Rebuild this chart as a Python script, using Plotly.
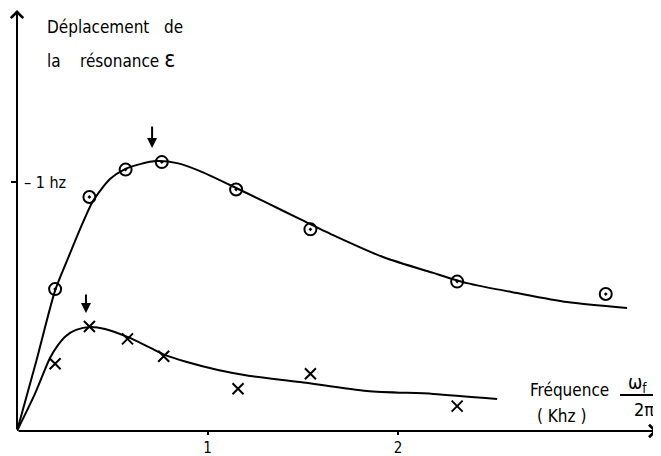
import plotly.graph_objects as go

# measured points (kHz, Hz)
circ_x = [0.20, 0.38, 0.57, 0.76, 1.15, 1.54, 2.31, 3.09]
circ_y = [0.57, 0.94, 1.05, 1.08, 0.97, 0.81, 0.60, 0.55]
cross_x = [0.20, 0.38, 0.58, 0.77, 1.16, 1.54, 2.31]
cross_y = [0.27, 0.42, 0.37, 0.30, 0.17, 0.23, 0.10]

# hand-drawn fitted curves
up_x = [0, 0.10, 0.199, 0.262, 0.331, 0.399, 0.488, 0.567, 0.646, 0.735, 0.840, 0.961,
        1.118, 1.312, 1.486, 1.659, 1.921, 2.184, 2.362, 2.625, 2.887, 3.202]
up_y = [0, 0.277, 0.562, 0.683, 0.811, 0.924, 1.012, 1.052, 1.072, 1.084, 1.076, 1.044,
        0.988, 0.916, 0.851, 0.787, 0.699, 0.635, 0.594, 0.554, 0.518, 0.494]
lo_x = [0, 0.094, 0.173, 0.215, 0.257, 0.310, 0.383, 0.462, 0.583, 0.682, 0.766,
        0.892, 1.055, 1.223, 1.486, 1.837, 2.184, 2.520]
lo_y = [0, 0.149, 0.293, 0.345, 0.382, 0.406, 0.418, 0.410, 0.377, 0.341, 0.309,
        0.277, 0.245, 0.221, 0.197, 0.161, 0.149, 0.129]

x_ticks = [1, 2]
x_tick_text = ["1", "2"]
y_ticks = [1]

XMAX, YMAX = 3.38, 1.691
XARROW = 3.36
FONT = "DejaVu Sans Condensed, DejaVu Sans, sans-serif"
PAGE = 8  # default body margin of the html page

fig = go.Figure()
fig.add_trace(go.Scatter(x=up_x, y=up_y, mode="lines", hoverinfo="skip",
                         line=dict(color="black", width=2, shape="spline", smoothing=0.7)))
fig.add_trace(go.Scatter(x=lo_x, y=lo_y, mode="lines", hoverinfo="skip",
                         line=dict(color="black", width=2, shape="spline", smoothing=0.7)))
fig.add_trace(go.Scatter(x=circ_x, y=circ_y, mode="markers",
                         marker=dict(symbol="circle-open-dot", size=12, color="black",
                                     line=dict(width=2, color="black"))))
fig.add_trace(go.Scatter(x=cross_x, y=cross_y, mode="markers",
                         marker=dict(symbol="x-thin-open", size=11, color="black",
                                     line=dict(width=2, color="black"))))

ann = []
# axes arrows
ann.append(dict(x=0, y=YMAX, ax=0, ay=0, xref="x", yref="y", axref="x", ayref="y",
                showarrow=True, arrowhead=4, arrowsize=1.2, arrowwidth=2, arrowcolor="black", text=""))
ann.append(dict(x=XARROW, y=0, ax=0, ay=0, xref="x", yref="y", axref="x", ayref="y",
                showarrow=True, arrowhead=4, arrowsize=1.2, arrowwidth=2, arrowcolor="black", text=""))
# peak arrows
ann.append(dict(x=0.709, y=1.137, ax=0.709, ay=1.229, xref="x", yref="y", axref="x", ayref="y",
                showarrow=True, arrowhead=2, arrowsize=1, arrowwidth=2, arrowcolor="black", text=""))
ann.append(dict(x=0.362, y=0.474, ax=0.362, ay=0.554, xref="x", yref="y", axref="x", ayref="y",
                showarrow=True, arrowhead=2, arrowsize=1, arrowwidth=2, arrowcolor="black", text=""))

tf = dict(family=FONT, size=17, color="black")
NB = "\u00a0"
ann.append(dict(x=0.147, y=1.622, xanchor="left", yanchor="middle", showarrow=False,
                text="Déplacement" + NB * 3 + "de", font=tf))
ann.append(dict(x=0.147, y=1.494, xanchor="left", yanchor="middle", showarrow=False,
                text="la" + NB * 4 + "résonance" + NB + "<span style='font-size:23px'>ε</span>", font=tf))
ann.append(dict(x=0.026, y=y_ticks[0], xanchor="left", yanchor="middle", showarrow=False,
                text="–" + NB + "1" + NB + "hz", font=dict(family=FONT, size=16, color="black")))
ann.append(dict(x=2.682, y=0.163, xanchor="left", yanchor="middle", showarrow=False,
                text="Fréquence", font=tf))
ann.append(dict(x=2.858, y=0.062, xanchor="center", yanchor="middle", showarrow=False,
                text="(" + NB + "Khz" + NB + ")", font=tf))
ann.append(dict(x=3.255, y=0.192, xanchor="center", yanchor="middle", showarrow=False,
                text="ω<sub>f</sub>", font=dict(family=FONT, size=19, color="black")))
ann.append(dict(x=3.29, y=0.088, xanchor="center", yanchor="middle", showarrow=False,
                text="2π", font=dict(family=FONT, size=18, color="black")))

fig.add_shape(type="line", x0=3.165, x1=3.38, y0=0.145, y1=0.145, xref="x", yref="y",
              line=dict(color="black", width=2))

fig.update_layout(
    width=661 - PAGE, height=456 - PAGE, showlegend=False,
    paper_bgcolor="white", plot_bgcolor="white",
    margin=dict(l=17 - PAGE, r=0, t=10 - PAGE, b=25),
    annotations=ann,
    xaxis=dict(range=[0, XMAX], showgrid=False, zeroline=False, showline=False, automargin=False,
               tickvals=x_ticks, ticktext=x_tick_text, ticks="outside", ticklen=3,
               tickwidth=2, tickcolor="black", fixedrange=True,
               tickfont=dict(family=FONT, size=15, color="black")),
    yaxis=dict(range=[0, YMAX], showgrid=False, zeroline=False, showline=False, automargin=False,
               tickvals=y_ticks, ticks="outside", ticklen=5, tickwidth=2, tickcolor="black",
               showticklabels=False, fixedrange=True),
)
fig.write_html("out.html")
